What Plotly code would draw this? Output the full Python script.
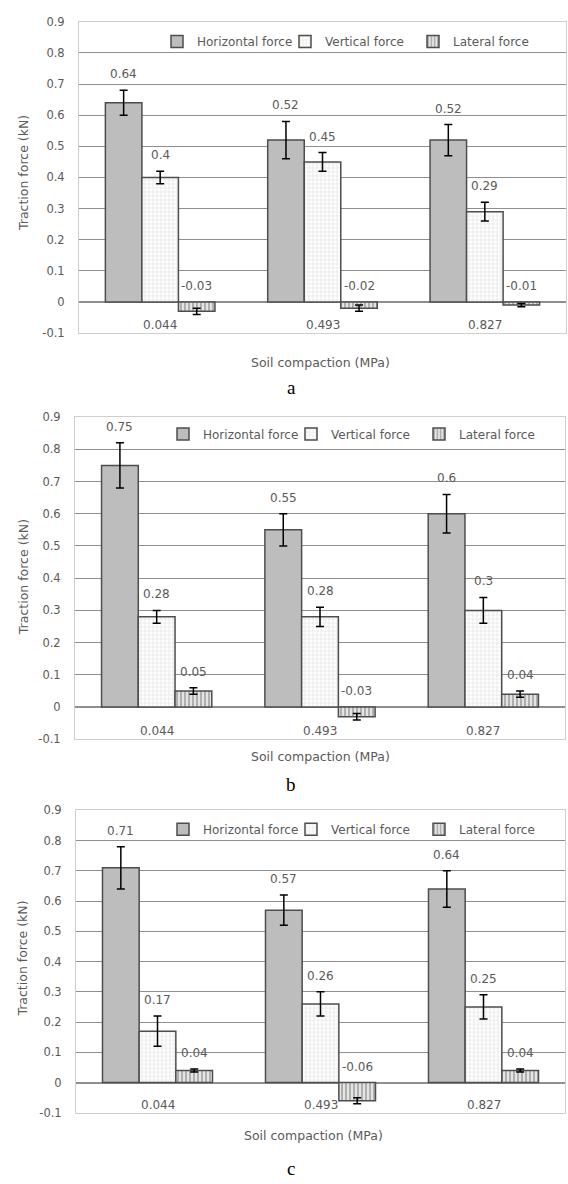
import plotly.graph_objects as go

# ---------------- data ----------------
categories = ["0.044", "0.493", "0.827"]
series_names = ["Horizontal force", "Vertical force", "Lateral force"]
panel_letters = ["a", "b", "c"]

horizontal_a = [0.64, 0.52, 0.52]
vertical_a = [0.40, 0.45, 0.29]
lateral_a = [-0.03, -0.02, -0.01]
horizontal_a_err = [0.04, 0.06, 0.05]
vertical_a_err = [0.02, 0.03, 0.03]
lateral_a_err = [0.01, 0.01, 0.005]

horizontal_b = [0.75, 0.55, 0.60]
vertical_b = [0.28, 0.28, 0.30]
lateral_b = [0.05, -0.03, 0.04]
horizontal_b_err = [0.07, 0.05, 0.06]
vertical_b_err = [0.02, 0.03, 0.04]
lateral_b_err = [0.01, 0.01, 0.01]

horizontal_c = [0.71, 0.57, 0.64]
vertical_c = [0.17, 0.26, 0.25]
lateral_c = [0.04, -0.06, 0.04]
horizontal_c_err = [0.07, 0.05, 0.06]
vertical_c_err = [0.05, 0.04, 0.04]
lateral_c_err = [0.005, 0.01, 0.005]

y_tick_vals = [-0.1, 0, 0.1, 0.2, 0.3, 0.4, 0.5, 0.6, 0.7, 0.8, 0.9]
y_tick_text = ["-0.1", "0", "0.1", "0.2", "0.3", "0.4", "0.5", "0.6", "0.7", "0.8", "0.9"]

x_title = "Soil compaction (MPa)"
y_title = "Traction force (kN)"

# ---------------- layout / style ----------------
W, H = 568, 1184
FONT = "DejaVu Sans"
TXT = "#5a5a5a"
bargap = 0.325

panels = [
    [(horizontal_a, horizontal_a_err), (vertical_a, vertical_a_err), (lateral_a, lateral_a_err)],
    [(horizontal_b, horizontal_b_err), (vertical_b, vertical_b_err), (lateral_b, lateral_b_err)],
    [(horizontal_c, horizontal_c_err), (vertical_c, vertical_c_err), (lateral_c, lateral_c_err)],
]
# plot-area pixel boxes (left, right, top, bottom)
boxes = [(79, 566, 15, 330), (75, 565, 415, 741), (76, 565, 813, 1119)]
legend_px = [(157, 35), (163, 432), (163, 832)]
xtitle_px = [(320, 360), (320, 758), (313, 1142)]
ytitle_py = [168, 577, 963]
letter_px = [(291, 385), (291, 787), (291, 1175)]

markers = [
    dict(color="#bdbdbd", line=dict(color="#4d4d4d", width=1.5)),
    dict(color="white", line=dict(color="#4d4d4d", width=1.5),
         pattern=dict(shape="+", fgcolor="#c4c4c4", bgcolor="white", size=4, solidity=0.3)),
    dict(color="#e0e0e0", line=dict(color="#4d4d4d", width=1.5),
         pattern=dict(shape="|", fgcolor="#6e6e6e", bgcolor="#e4e4e4", size=4, solidity=0.45)),
]

fig = go.Figure()
annotations = []
layout = dict(
    width=W, height=H, margin=dict(l=0, r=0, t=0, b=0),
    paper_bgcolor="white", plot_bgcolor="white",
    barmode="group", bargap=bargap, bargroupgap=0,
    font=dict(family=FONT, size=12, color=TXT),
)

ncat = len(categories)
bar_w = (1 - bargap) / 3

for i, panel in enumerate(panels):
    sfx = "" if i == 0 else str(i + 1)
    xa, ya, lg = "x" + sfx, "y" + sfx, "legend" + sfx
    l, r, t, b = boxes[i]
    for j, (vals, errs) in enumerate(panel):
        fig.add_trace(go.Bar(
            x=list(range(ncat)), y=vals, name=series_names[j],
            xaxis=xa, yaxis=ya, legend=lg,
            marker=markers[j],
            error_y=dict(type="data", array=errs, color="black", thickness=1.5, width=4),
            showlegend=True,
        ))
        for k, (v, e) in enumerate(zip(vals, errs)):
            top = v + e if v >= 0 else 0
            annotations.append(dict(
                x=k + (j - 1) * bar_w, y=top, xref=xa, yref=ya,
                text=f"{v:g}", showarrow=False, xanchor="center", yanchor="middle",
                yshift=16, font=dict(family=FONT, size=12, color=TXT)))
    for k, c in enumerate(categories):
        annotations.append(dict(
            x=k, y=-0.074, xref=xa, yref=ya, text=c, showarrow=False,
            xanchor="center", yanchor="middle",
            font=dict(family=FONT, size=12, color=TXT)))
    layout["xaxis" + sfx] = dict(
        domain=[l / W, r / W], anchor=ya, range=[-0.5, ncat - 0.5],
        showticklabels=False, showgrid=False, zeroline=False,
        showline=True, mirror=True, linecolor="#cfcfcf", linewidth=1, ticks="")
    layout["yaxis" + sfx] = dict(
        domain=[1 - b / H, 1 - t / H], anchor=xa, range=[-0.1, 0.9],
        tickvals=y_tick_vals, ticktext=y_tick_text, ticks="",
        ticklabelstandoff=11,
        tickfont=dict(family=FONT, size=11.5, color=TXT),
        showgrid=True, gridcolor="#8f8f8f", gridwidth=1.2,
        zeroline=True, zerolinecolor="#8f8f8f", zerolinewidth=1.5,
        showline=True, mirror=True, linecolor="#cfcfcf", linewidth=1)
    lx, ly = legend_px[i]
    layout[lg] = dict(
        orientation="h", x=lx / W, y=1 - ly / H, xanchor="left", yanchor="middle",
        bgcolor="rgba(0,0,0,0)", font=dict(family=FONT, size=12, color=TXT),
        traceorder="normal", itemwidth=30, itemclick=False,
        entrywidth=83, entrywidthmode="pixels")
    tx, ty = xtitle_px[i]
    annotations.append(dict(
        x=tx / W, y=1 - ty / H, xref="paper", yref="paper", text=x_title,
        xanchor="center", yanchor="middle",
        showarrow=False, font=dict(family=FONT, size=12.5, color=TXT)))
    annotations.append(dict(
        x=23 / W, y=1 - ytitle_py[i] / H, xref="paper", yref="paper", text=y_title,
        xanchor="center", yanchor="middle",
        textangle=-90, showarrow=False, font=dict(family=FONT, size=12.5, color=TXT)))
    px_, py_ = letter_px[i]
    annotations.append(dict(
        x=px_ / W, y=1 - py_ / H, xref="paper", yref="paper", text=panel_letters[i],
        xanchor="center", yanchor="middle",
        showarrow=False, font=dict(family="Liberation Serif", size=19, color="black")))

layout["annotations"] = annotations
fig.update_layout(**layout)
fig.write_html("out.html", config={"displayModeBar": False},
               post_script="document.body.style.margin='0px';")
